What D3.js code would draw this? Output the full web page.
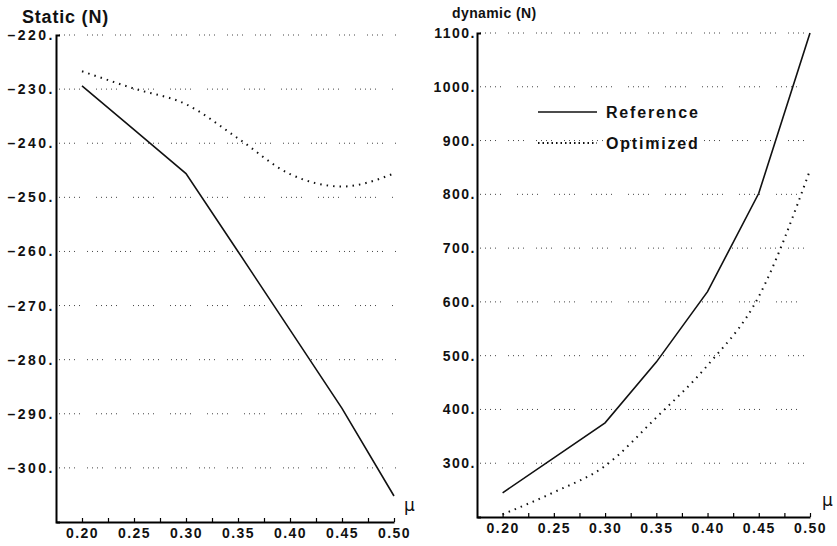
<!DOCTYPE html>
<html>
<head>
<meta charset="utf-8">
<script src="https://cdn.jsdelivr.net/npm/d3@7"></script>
<style>
  body { margin: 0; background: #fff; }
  svg { display: block; font-family: "Liberation Sans", Arial, sans-serif; }
</style>
</head>
<body>
<div id="chart"></div>
<script>
// friction coefficient values (x)
const muValues = [0.20, 0.25, 0.30, 0.35, 0.40, 0.45, 0.50];

// static force (N)
const staticReference = [-229.4, -237.5, -245.6, -260.0, -274.5, -289.0, -305.2];
const staticOptimized = [-226.7, -229.9, -232.8, -239.1, -245.7, -248.0, -245.6];

// dynamic force (N)
const dynamicReference = [245, 310, 375, 488, 619, 802, 1100];
const dynamicOptimized = [205, 246, 295, 385, 482, 610, 845];

const muTicks = [0.20, 0.25, 0.30, 0.35, 0.40, 0.45, 0.50];
const staticTicks = [-220, -230, -240, -250, -260, -270, -280, -290, -300];
const dynamicTicks = [300, 400, 500, 600, 700, 800, 900, 1000, 1100];
const legendLabels = ["Reference", "Optimized"];

const width = 837;
const height = 546;

const svg = d3.select("#chart")
    .append("svg")
    .attr("width", width)
    .attr("height", height);

function drawPanel(p) {
    const x = d3.scaleLinear().domain([0.175, 0.50]).range(p.xRange);
    const y = d3.scaleLinear().domain(p.yDomain).range(p.yRange);
    const g = svg.append("g");

    // dotted grid lines (broken up like the scanned original)
    g.selectAll(".grid")
        .data(p.yTicks)
        .enter()
        .append("line")
        .attr("x1", p.xRange[0] + 3)
        .attr("x2", p.xRange[1] + 2)
        .attr("y1", d => y(d))
        .attr("y2", d => y(d))
        .attr("stroke", "#444")
        .attr("stroke-width", 1)
        .attr("stroke-dasharray", (d, i) => i % 2 ? "1,4,1,4,1,4,1,4,1,16" : "1,4,1,4,1,4,1,12");

    // minor ticks every 0.025, labels every 0.05
    const minorTicks = d3.range(13).map(i => +(0.20 + i * 0.025).toFixed(3));
    const xAxis = g.append("g")
        .attr("transform", `translate(0, ${p.yRange[0]})`)
        .call(d3.axisBottom(x)
            .tickValues(minorTicks)
            .tickSizeInner(-4)
            .tickSizeOuter(0)
            .tickPadding(6)
            .tickFormat(d => muTicks.some(t => Math.abs(t - d) < 1e-6) ? d3.format(".2f")(d) : ""));
    xAxis.select(".domain").attr("stroke-width", 2);
    xAxis.selectAll(".tick line").attr("stroke-width", 1.2);
    xAxis.selectAll("text")
        .attr("font-size", "14px")
        .attr("font-weight", "bold")
        .attr("letter-spacing", "1.5px")
        .attr("fill", "#111");

    const yAxis = g.append("g")
        .attr("transform", `translate(${p.xRange[0]}, 0)`)
        .call(d3.axisLeft(y)
            .tickValues(p.yTicks)
            .tickSizeInner(0)
            .tickSizeOuter(-4)
            .tickPadding(1)
            .tickFormat(d => (d < 0 ? "\u2013" + Math.abs(d) : d) + "."));
    yAxis.select(".domain").attr("stroke-width", 2);
    yAxis.selectAll("text")
        .attr("font-size", "14px")
        .attr("font-weight", "bold")
        .attr("letter-spacing", p.labelSpacing)
        .attr("fill", "#111");

    const line = d3.line()
        .x(d => x(d.mu))
        .y(d => y(d.v));

    const refData = muValues.map((mu, i) => ({ mu, v: p.reference[i] }));
    const optData = muValues.map((mu, i) => ({ mu, v: p.optimized[i] }));

    g.append("path")
        .attr("d", line(refData))
        .attr("fill", "none")
        .attr("stroke", "#111")
        .attr("stroke-width", 1.6);

    g.append("path")
        .attr("d", line.curve(d3.curveMonotoneX)(optData))
        .attr("fill", "none")
        .attr("stroke", "#111")
        .attr("stroke-width", 2)
        .attr("stroke-dasharray", "1.5,5");

    // title
    svg.append("text")
        .attr("x", p.titleX)
        .attr("y", p.titleY)
        .attr("font-size", p.titleSize)
        .attr("font-weight", "bold")
        .attr("letter-spacing", p.titleSpacing)
        .attr("fill", "#111")
        .text(p.title);

    // axis symbol
    svg.append("text")
        .attr("x", p.muX)
        .attr("y", p.muY)
        .attr("font-family", "DejaVu Sans")
        .attr("font-size", "17px")
        .attr("fill", "#111")
        .text("\u03bc");
}

drawPanel({
    xRange: [56, 394],
    yRange: [522, 35],
    yDomain: [-310, -220],
    yTicks: staticTicks,
    reference: staticReference,
    optimized: staticOptimized,
    labelSpacing: "2.5px",
    title: "Static (N)",
    titleX: 22, titleY: 23, titleSize: "18px", titleSpacing: "0.8px",
    muX: 404, muY: 511
});

drawPanel({
    xRange: [477, 810],
    yRange: [517, 33],
    yDomain: [200, 1100],
    yTicks: dynamicTicks,
    reference: dynamicReference,
    optimized: dynamicOptimized,
    labelSpacing: "1.5px",
    title: "dynamic (N)",
    titleX: 452, titleY: 18, titleSize: "14px", titleSpacing: "0.4px",
    muX: 822, muY: 506
});

// legend
const legend = svg.append("g");
legendLabels.forEach((label, i) => {
    const ly = 112 + i * 31;
    legend.append("line")
        .attr("x1", 538)
        .attr("x2", 597)
        .attr("y1", ly)
        .attr("y2", ly)
        .attr("stroke", "#111")
        .attr("stroke-width", i === 0 ? 1.6 : 2)
        .attr("stroke-dasharray", i === 0 ? null : "1.5,3");
    legend.append("text")
        .attr("x", 606)
        .attr("y", ly + 6)
        .attr("font-size", "16px")
        .attr("font-weight", "bold")
        .attr("letter-spacing", "1.8px")
        .attr("fill", "#111")
        .text(label);
});
</script>
</body>
</html>
